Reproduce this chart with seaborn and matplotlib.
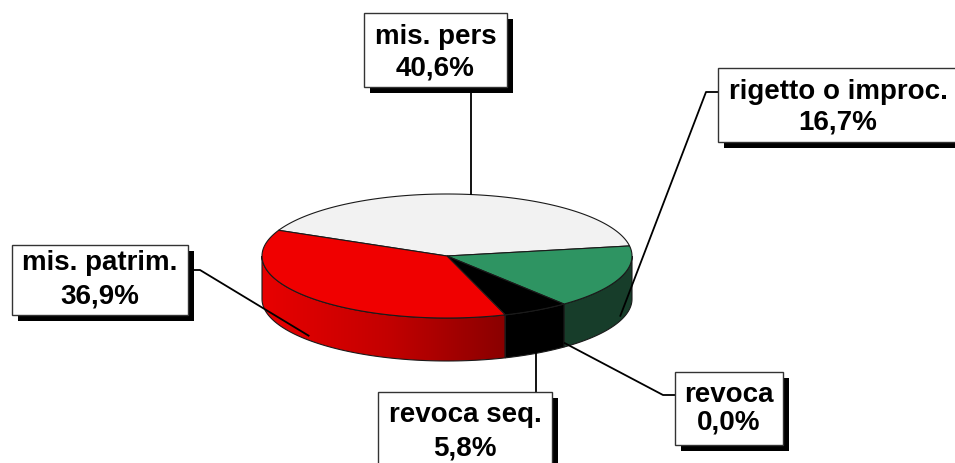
import numpy as np
import matplotlib
matplotlib.use("Agg")
import matplotlib.pyplot as plt
import seaborn as sns
from matplotlib.patches import Polygon, Rectangle
from matplotlib.colors import LinearSegmentedColormap

# ---- data ----
categories = ["mis. pers", "rigetto o improc.", "revoca", "revoca seq.", "mis. patrim."]
values = [40.6, 16.7, 0.0, 5.8, 36.9]
top_colors = ["#f2f2f2", "#2e9462", "#000000", "#000000", "#f00000"]
side_colors = ["#c8c8c8", "#173d2a", "#000000", "#000000", None]  # None -> red gradient

sns.set_theme(style="white")
plt.rcParams["font.family"] = ["Liberation Sans", "DejaVu Sans"]

W, H = 955, 463
fig = plt.figure(figsize=(W / 100, H / 100), dpi=100)
ax = fig.add_axes([0, 0, 1, 1])
ax.set_xlim(0, W)
ax.set_ylim(H, 0)
ax.axis("off")

# ---- pie geometry (layout) ----
cx, cy, rx, ry, depth = 447, 256, 185, 62, 43
start = 155.5  # degrees; slices go clockwise


def pt(t, dy=0.0):
    r = np.radians(t)
    return cx + rx * np.cos(r), cy - ry * np.sin(r) + dy


tot = sum(values)
bounds = []
a = start
for v in values:
    b = a - 360.0 * v / tot
    bounds.append((b, a))
    a = b

edge_kw = dict(edgecolor="#1a1a1a", linewidth=0.8)

# ---- side walls (front half: angles in [-180, 0] modulo 360) ----
for (t_lo, t_hi), col in zip(bounds, side_colors):
    for k in (-1, 0, 1):
        lo = max(t_lo, -180 + 360 * k)
        hi = min(t_hi, 0 + 360 * k)
        if hi - lo <= 1e-6:
            continue
        ts = np.linspace(hi, lo, 80)
        topp = [pt(t) for t in ts]
        botp = [pt(t, depth) for t in ts[::-1]]
        poly = Polygon(topp + botp, closed=True, zorder=2,
                       facecolor=(col if col else "none"), **edge_kw)
        ax.add_patch(poly)
        if col is None:
            cmap = LinearSegmentedColormap.from_list("rg", ["#e80000", "#c40000", "#880000"])
            grad = np.linspace(0, 1, 256).reshape(1, -1)
            im = ax.imshow(grad, cmap=cmap, extent=(cx - rx, 508, cy + ry + depth + 2, cy - ry),
                           aspect="auto", zorder=1.9, interpolation="bilinear")
            im.set_clip_path(poly)
            ax.set_xlim(0, W)
            ax.set_ylim(H, 0)

# ---- top surface ----
for (t_lo, t_hi), col in zip(bounds, top_colors):
    if t_hi - t_lo <= 1e-6:
        continue
    ts = np.linspace(t_hi, t_lo, 120)
    ax.add_patch(Polygon([(cx, cy)] + [pt(t) for t in ts], closed=True,
                         facecolor=col, zorder=3, **edge_kw))

# ---- labels ----
def fmt(v):
    return f"{v:.1f}".replace(".", ",") + "%"

# box: (x0, y0, x1, y1), elbow points from box to slice
boxes = {
    "mis. pers": (364, 13, 507, 87),
    "rigetto o improc.": (718, 68, 960, 142),
    "revoca": (675, 372, 783, 445),
    "revoca seq.": (378, 392, 552, 480),
    "mis. patrim.": (12, 245, 188, 315),
}
text_y = {
    "mis. pers": (37, 68),
    "rigetto o improc.": (92, 123),
    "revoca": (395, 423),
    "revoca seq.": (415, 448),
    "mis. patrim.": (263, 297),
}
text_x = {"rigetto o improc.": 838, "revoca seq.": 465}

for (t_lo, t_hi), cat, v in zip(bounds, categories, values):
    mid = (t_lo + t_hi) / 2
    x0, y0, x1, y1 = boxes[cat]
    if np.sin(np.radians(mid)) > 0:
        axp, ayp = pt(mid)
    else:
        axp, ayp = pt(mid, depth * 0.9)
    # leader line
    if cat == "mis. pers":
        xs, ys = [axp, axp], [ayp, y1]
    elif cat == "revoca seq.":
        xs, ys = [axp, axp], [ayp, y0]
    elif cat == "mis. patrim.":
        yy = (y0 + y1) / 2 - 10
        xs, ys = [axp, x1 + 12, x1], [ayp, yy, yy]
    else:
        yy = text_y[cat][0]
        xs, ys = [axp, x0 - 12, x0], [ayp, yy, yy]
    ax.plot(xs, ys, color="black", lw=1.3, zorder=4, solid_capstyle="butt")
    # shadow + box
    ax.add_patch(Rectangle((x0 + 6, y0 + 6), x1 - x0, y1 - y0, facecolor="black",
                           edgecolor="none", zorder=5))
    ax.add_patch(Rectangle((x0, y0), x1 - x0, y1 - y0, facecolor="white",
                           edgecolor="#333333", linewidth=1.0, zorder=6))
    tx = text_x.get(cat, (x0 + x1) / 2)
    ya, yb = text_y[cat]
    ax.text(tx, ya, cat, ha="center", va="center", fontsize=20, fontweight="bold",
            color="black", zorder=7)
    ax.text(tx, yb, fmt(v), ha="center", va="center", fontsize=20, fontweight="bold",
            color="black", zorder=7)

fig.savefig("out.png", dpi=100)
